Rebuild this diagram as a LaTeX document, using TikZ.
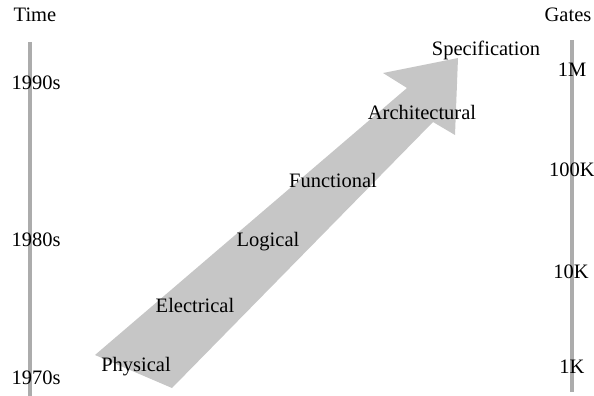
\documentclass[tikz,border=0pt]{standalone}
\usepackage{fontspec}
\setmainfont{Liberation Serif}
\usetikzlibrary{positioning}

\begin{document}
\begin{tikzpicture}[
    x=1pt, y=-1pt,
    lbl/.style={
        inner sep=0pt,
        font=\fontsize{20.5}{24}\selectfont
    },
    bar/.style={
        line width=4pt,
        draw=gray!65
    },
    band/.style={
        fill=gray!45,
        draw=none
    }
]

\useasboundingbox (0,0) rectangle (594,396);

% time axis and gates axis
\coordinate (timetop) at (30,42);
\coordinate (timebot) at (30,396);
\coordinate (gatetop) at (572,40);
\coordinate (gatebot) at (572,392);
\draw[bar] (timetop) -- (timebot);
\draw[bar] (gatetop) -- (gatebot);

% rising arrow
\coordinate (tailL) at (95,355);
\coordinate (tailR) at (172,388);
\coordinate (neckR) at (433,122);
\coordinate (barbR) at (455,135);
\coordinate (tip) at (458,58);
\coordinate (barbL) at (383,73);
\coordinate (neckL) at (407,88);
\fill[band] (tailL) -- (tailR) -- (neckR) -- (barbR) -- (tip) -- (barbL) -- (neckL) -- cycle;

\node[lbl] (time) at (35,15) {Time};
\node[lbl] (y90) at (36,83) {1990s};
\node[lbl] (y80) at (36,240) {1980s};
\node[lbl] (y70) at (36,378) {1970s};

\node[lbl] (gates) at (568,15) {Gates};
\node[lbl] (g1m) at (572,70) {1M};
\node[lbl] (g100k) at (572,170) {100K};
\node[lbl] (g10k) at (571,272) {10K};
\node[lbl] (g1k) at (572,367) {1K};

\node[lbl] (spec) at (486,50) {Specification};
\node[lbl] (arch) at (422,112) {Architectural};
\node[lbl] (func) at (333,180) {Functional};
\node[lbl] (logic) at (268,242) {Logical};
\node[lbl] (elec) at (195,305) {Electrical};
\node[lbl] (phys) at (136,367) {Physical};

\end{tikzpicture}
\end{document}
